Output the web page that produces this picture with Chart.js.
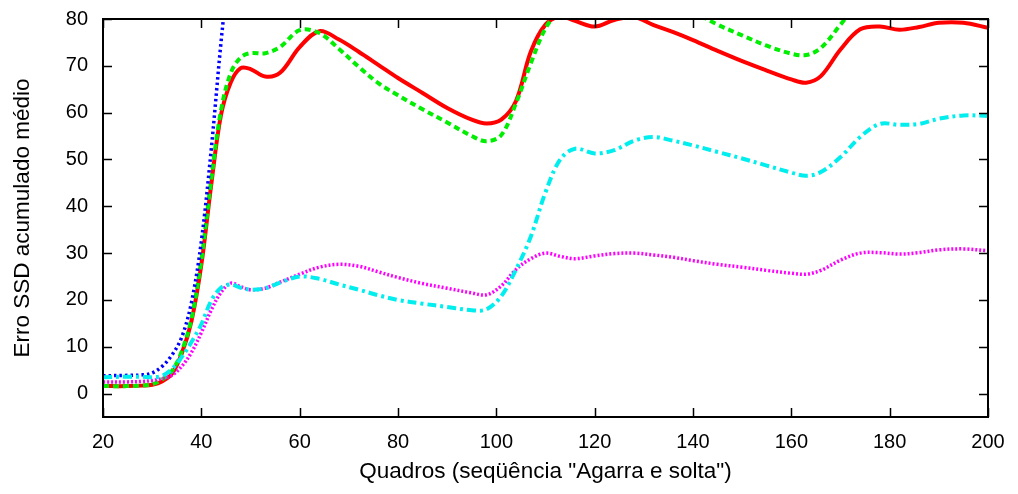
<!DOCTYPE html>
<html>
<head>
<meta charset="utf-8">
<script src="https://cdn.jsdelivr.net/npm/chart.js@4"></script>
<style>
  html, body { margin: 0; padding: 0; background: #fff; }
  #wrap { width: 1018px; height: 494px; }
</style>
</head>
<body>
<div id="wrap"><canvas id="chart"></canvas></div>
<script>
// frames (x axis)
const frames = [20, 25, 28, 30, 32, 34, 36, 38, 40, 42, 44, 46, 48, 50, 53, 56, 60, 64, 68, 72, 76, 80, 85, 90, 95, 98,
    101, 104, 107, 110, 113, 116, 120, 124, 128, 132, 136, 140, 145, 150, 155, 160, 163, 166, 170, 174, 178, 182, 186, 190, 195, 200];

const redVals = [1.6, 1.6, 1.7, 1.9, 2.6, 4.2, 8.5, 15.5, 27.5, 44.5, 59.5, 66.5, 69.5, 69.3, 67.7, 68.5, 74, 77.4, 75.6, 73, 70.2, 67.4, 64.2, 61, 58.5, 57.7,
    58.5, 62.5, 73, 78.8, 80.5, 79.6, 78.4, 79.8, 80.4, 78.7, 77.2, 75.5, 73.2, 71, 69, 67.1, 66.4, 67.8, 73.5, 77.8, 78.4, 77.7, 78.3, 79.2, 79.2, 78.1];

const greenVals = [1.6, 1.6, 1.7, 2.0, 3.0, 4.8, 9, 16, 28.5, 45.5, 60.5, 68.5, 71.8, 72.7, 72.7, 74, 77.6, 77, 73.6, 69.8, 66.3, 63.7, 60.7, 57.9, 55, 53.9,
    55.2, 62, 70.5, 78, 82, 84, 85, 85.5, 85, 84, 83, 81.5, 78.8, 76.5, 74.3, 72.6, 72.3, 73.8, 78.8, 84, 88, 91, 93, 95, 96, 97];

const blueVals = [3.8, 3.9, 4.0, 4.4, 5.8, 8.2, 12, 19.5, 32.5, 52, 75, 95, 115, 135, null, null, null, null, null, null, null, null, null, null, null, null,
    null, null, null, null, null, null, null, null, null, null, null, null, null, null, null, null, null, null, null, null, null, null, null, null, null, null];

const magentaVals = [2.5, 2.5, 2.6, 2.8, 3.2, 3.9, 5.8, 8.8, 13, 17.8, 21.6, 23.6, 22.8, 22.2, 22.5, 23.8, 25.5, 27, 27.6, 27.2, 26, 24.8, 23.5, 22.5, 21.5, 21.1,
    23, 26.5, 28.8, 30, 29.3, 28.8, 29.4, 29.9, 30, 29.6, 29.1, 28.4, 27.6, 27, 26.3, 25.7, 25.5, 26.3, 28.5, 30, 30.1, 29.8, 30.1, 30.7, 30.9, 30.5];

const cyanVals = [3.5, 3.6, 3.6, 3.5, 3.8, 5.2, 7.8, 11, 14.8, 19.8, 22.6, 23.3, 22.6, 22.2, 22.5, 23.7, 25, 24.5, 23.3, 22.2, 21, 20, 19.2, 18.5, 17.8, 18,
    20.8, 26.5, 33.5, 43, 50, 52.3, 51.3, 52, 54, 54.8, 54, 53, 51.6, 50.2, 48.7, 47.2, 46.5, 47.3, 50.5, 54.8, 57.6, 57.4, 57.6, 58.7, 59.4, 59.3];

const xTickValues = [20, 40, 60, 80, 100, 120, 140, 160, 180, 200];
const yTickValues = [0, 10, 20, 30, 40, 50, 60, 70, 80];

const toPoints = (vals) => frames.map((f, i) => ({ x: f, y: vals[i] }));

const FONT = "'Liberation Sans', Arial, Helvetica, sans-serif";

// inward ticks on all four sides + frame, like gnuplot
const frameTicks = {
    id: 'frameTicks',
    afterDatasetsDraw(chart) {
        const { ctx, chartArea: a, scales } = chart;
        const len = 9;
        ctx.save();
        ctx.strokeStyle = '#000';
        ctx.lineWidth = 1.5;
        ctx.beginPath();
        scales.x.ticks.forEach(t => {
            const px = Math.round(scales.x.getPixelForValue(t.value)) + 0.5;
            ctx.moveTo(px, a.bottom); ctx.lineTo(px, a.bottom - len);
            ctx.moveTo(px, a.top); ctx.lineTo(px, a.top + len);
        });
        scales.y.ticks.forEach(t => {
            const py = Math.round(scales.y.getPixelForValue(t.value)) + 0.5;
            ctx.moveTo(a.left, py); ctx.lineTo(a.left + len, py);
            ctx.moveTo(a.right, py); ctx.lineTo(a.right - len, py);
        });
        ctx.stroke();
        ctx.lineWidth = 2;
        ctx.strokeRect(a.left, a.top, a.right - a.left, a.bottom - a.top);
        ctx.restore();
    }
};

const lineDs = (vals, color, width, dash, order) => ({
    data: toPoints(vals),
    borderColor: color,
    borderWidth: width,
    borderDash: dash,
    borderCapStyle: 'butt',
    pointRadius: 0,
    fill: false,
    tension: 0.35,
    spanGaps: false,
    order: order
});

new Chart('chart', {
    type: 'line',
    data: {
        datasets: [
            lineDs(redVals, '#ff0000', 4, [], 5),
            lineDs(greenVals, '#00ee00', 4, [6, 4], 4),
            lineDs(blueVals, '#0000ff', 3.5, [2.5, 3], 3),
            lineDs(magentaVals, '#ff00ff', 3.5, [2, 2], 2),
            lineDs(cyanVals, '#00eeee', 4, [9, 4, 3, 4], 1)
        ]
    },
    options: {
        responsive: true,
        maintainAspectRatio: false,
        animation: false,
        layout: { padding: { left: 0, right: 30, top: 19, bottom: 0 } },
        plugins: {
            legend: { display: false },
            tooltip: { enabled: false }
        },
        scales: {
            x: {
                type: 'linear',
                min: 20,
                max: 200,
                afterBuildTicks: (s) => { s.ticks = xTickValues.map(v => ({ value: v })); },
                afterFit: (s) => { s.height = 77; s.paddingLeft = 0; s.paddingRight = 0; },
                grid: { display: false, drawTicks: false },
                border: { display: false },
                ticks: { color: '#000', padding: 13, maxRotation: 0, font: { family: FONT, size: 20 } },
                title: {
                    display: true,
                    text: 'Quadros (seqüência "Agarra e solta")',
                    color: '#000',
                    padding: { top: 9, bottom: 9 },
                    font: { family: FONT, size: 22.5 }
                }
            },
            y: {
                min: -5,
                max: 80,
                afterBuildTicks: (s) => { s.ticks = yTickValues.map(v => ({ value: v })); },
                afterFit: (s) => { s.width = 103; s.paddingTop = 0; s.paddingBottom = 0; },
                grid: { display: false, drawTicks: false },
                border: { display: false },
                ticks: { color: '#000', padding: 15, font: { family: FONT, size: 20 } },
                title: {
                    display: true,
                    text: 'Erro SSD acumulado médio',
                    color: '#000',
                    padding: { top: 9, bottom: 9 },
                    font: { family: FONT, size: 22.5 }
                }
            }
        }
    },
    plugins: [frameTicks]
});
</script>
</body>
</html>
